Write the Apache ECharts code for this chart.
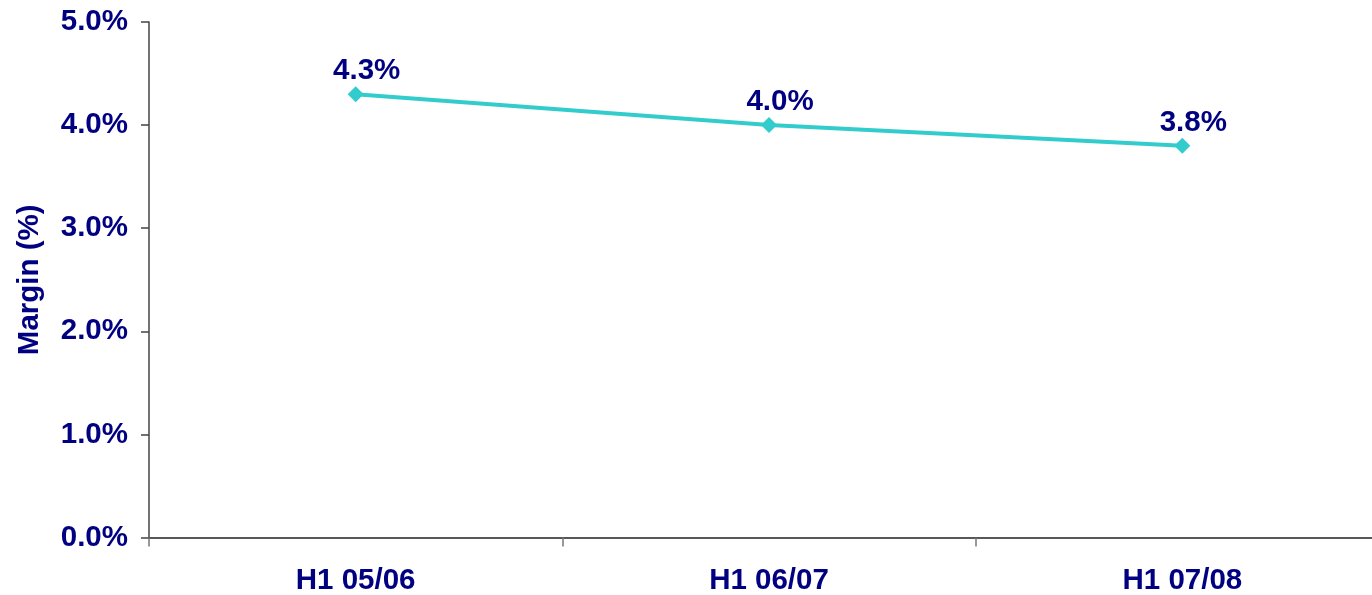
<!DOCTYPE html>
<html>
<head>
<meta charset="utf-8">
<script src="https://cdn.jsdelivr.net/npm/echarts@6/dist/echarts.min.js"></script>
<style>
  html, body { margin: 0; padding: 0; background: #fff; }
  #chart { width: 1372px; height: 595px; }
</style>
</head>
<body>
<div id="chart"></div>
<script>
// Half-year periods and operating margin (%)
const periods = ['H1 05/06', 'H1 06/07', 'H1 07/08'];
const margin = [4.3, 4.0, 3.8];
const yTicks = { min: 0, max: 5, interval: 1 };

const navy = '#000080';
const font = '"Liberation Sans", Arial, sans-serif';

const chart = echarts.init(document.getElementById('chart'), null, { renderer: 'canvas' });
chart.setOption({
  animation: false,
  grid: { left: 149, top: 22, bottom: 57.5, right: -17, containLabel: false, outerBoundsMode: 'none' },
  xAxis: {
    type: 'category',
    data: periods,
    boundaryGap: true,
    axisLine: { lineStyle: { color: '#222', width: 1.5 } },
    axisTick: { show: true, length: 9, lineStyle: { color: '#777', width: 1.5 } },
    axisLabel: { color: navy, fontFamily: font, fontWeight: 'bold', fontSize: 29.5, margin: 28 },
    splitLine: { show: false }
  },
  yAxis: {
    type: 'value',
    min: yTicks.min,
    max: yTicks.max,
    interval: yTicks.interval,
    name: 'Margin (%)',
    nameLocation: 'middle',
    nameGap: 104,
    nameRotate: 90,
    nameTextStyle: { color: navy, fontFamily: font, fontWeight: 'bold', fontSize: 29.5 },
    axisLine: { show: true, lineStyle: { color: '#444', width: 1.5 } },
    axisTick: { show: true, length: 8, lineStyle: { color: '#444', width: 1.5 } },
    axisLabel: {
      color: navy, fontFamily: font, fontWeight: 'bold', fontSize: 29.5, margin: 21,
      formatter: v => v.toFixed(1) + '%'
    },
    splitLine: { show: false }
  },
  series: [{
    type: 'line',
    data: margin,
    symbol: 'diamond',
    symbolSize: 16,
    lineStyle: { color: '#33CCCC', width: 4 },
    itemStyle: { color: '#33CCCC' },
    label: {
      show: true,
      position: 'top',
      distance: 0,
      offset: [11, 0],
      color: navy,
      fontFamily: font,
      fontWeight: 'bold',
      fontSize: 29.5,
      formatter: p => p.value.toFixed(1) + '%'
    }
  }]
});
</script>
</body>
</html>
